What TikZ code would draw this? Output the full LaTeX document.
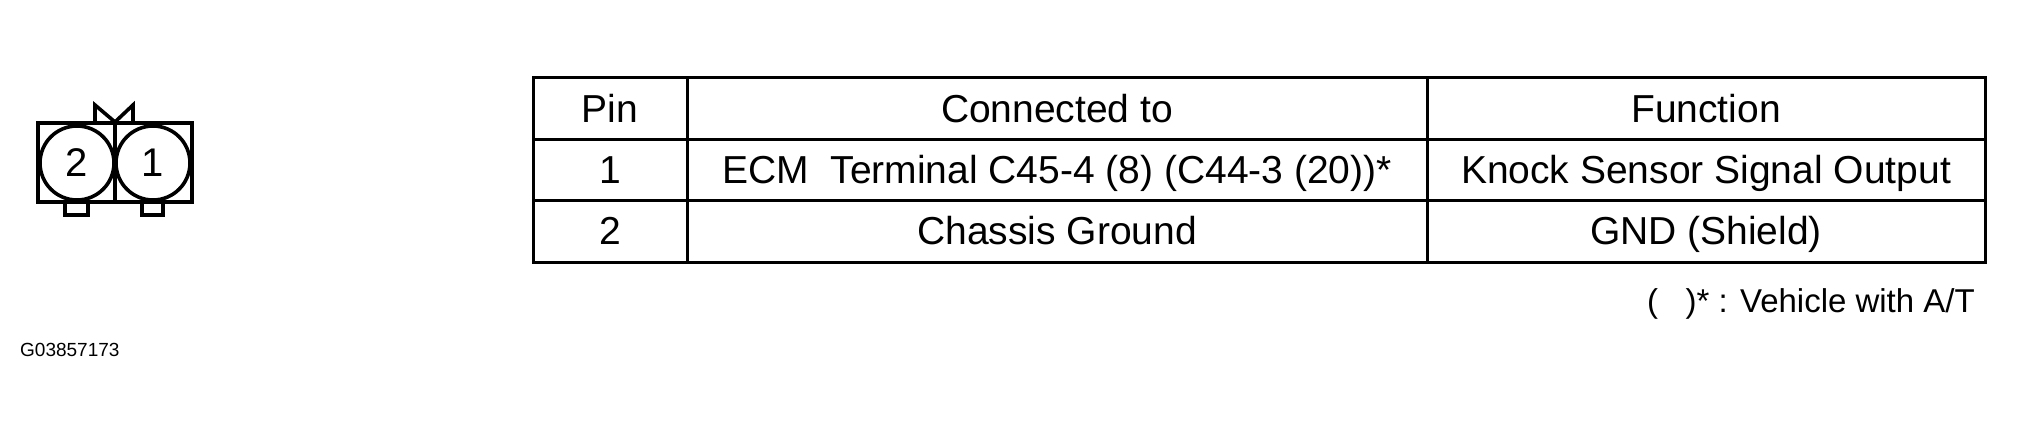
\documentclass[tikz,border=0pt]{standalone}
\usepackage{fontspec}
\setmainfont{Liberation Sans}
\begin{document}
\begin{tikzpicture}[x=1pt,y=-1pt,
  ln/.style={line width=3pt},
  cl/.style={line width=3.6pt},
  cell/.style={font=\fontsize{39}{42}\selectfont,anchor=base,inner sep=0pt},
  pin/.style={circle,draw,line width=3.6pt,minimum size=74pt,inner sep=0pt,font=\fontsize{40}{44}\selectfont}]
\useasboundingbox (0,0) rectangle (2027,434);
% connector
\draw[cl] (38,123) rectangle (192,202);
\draw[cl] (115,123) -- (115,202);
\draw[cl] (95,123) -- (95,105) -- (115,122) -- (133,105) -- (133,123);
\draw[cl] (65,202) -- (65,215) -- (88,215) -- (88,202);
\draw[cl] (142,202) -- (142,215) -- (163,215) -- (163,202);
\node[pin,fill=white] (p2) at (77,163) {2};
\node[pin,fill=white] (p1) at (153,163) {1};
% table
\draw[ln] (533,77) rectangle (1985,262);
\draw[ln] (533,139) -- (1985,139);
\draw[ln] (533,200) -- (1985,200);
\draw[ln] (687,77) -- (687,262);
\draw[ln] (1427,77) -- (1427,262);
\node[cell] (h1) at (610,122) {Pin};
\node[cell] (h2) at (1057,122) {Connected to};
\node[cell] (h3) at (1706,122) {Function};
\node[cell] (a1) at (610,183) {1};
\node[cell] (a2) at (1057,183) {ECM\ \ Terminal C45-4 (8) (C44-3 (20))*};
\node[cell] (a3) at (1706,183) {Knock Sensor Signal Output};
\node[cell] (b1) at (610,244) {2};
\node[cell] (b2) at (1057,244) {Chassis Ground};
\node[cell] (b3) at (1706,244) {GND (Shield)};
\node[cell,anchor=base east,font=\fontsize{33}{36}\selectfont] (fn) at (1975,312) {(\ \ \ )* : Vehicle with A/T};
\node[anchor=west,inner sep=0pt,font=\fontsize{19}{22}\selectfont] (id) at (20,350) {G03857173};
\end{tikzpicture}
\end{document}
